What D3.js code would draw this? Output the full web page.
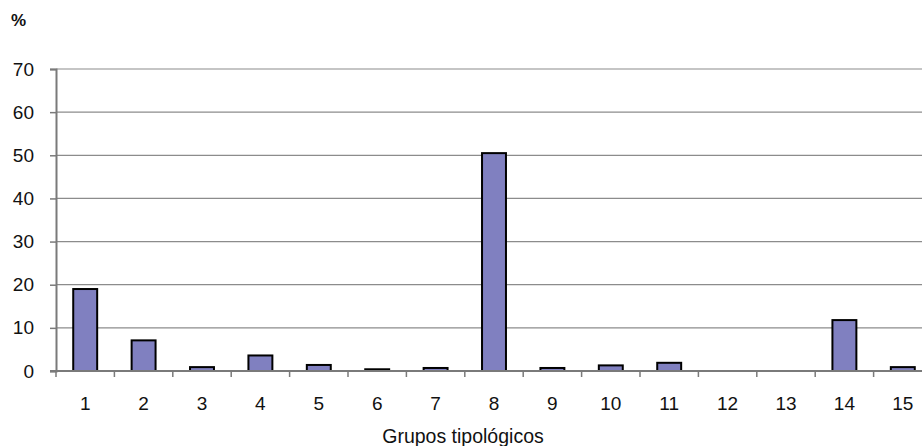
<!DOCTYPE html>
<html><head><meta charset="utf-8">
<script src="https://cdn.jsdelivr.net/npm/d3@7"></script>
<style>body{margin:0;background:#fff}svg{display:block;font-family:"Liberation Sans",Arial,sans-serif}</style>
</head><body>
<svg id="c" width="922" height="446"></svg>
<script>
const categories = ["1","2","3","4","5","6","7","8","9","10","11","12","13","14","15"];
const values = [19.0, 7.1, 0.9, 3.6, 1.4, 0.4, 0.7, 50.5, 0.7, 1.3, 1.9, 0, 0, 11.8, 0.9];
const yTicks = [0,10,20,30,40,50,60,70];
const yLabel = "%";
const xLabel = "Grupos tipológicos";

const svg = d3.select("#c");
const m = {left:56, top:69, bottom:371};
const bandW = 58.4;
const x = d3.scaleBand().domain(categories).range([m.left, m.left + bandW*categories.length]).paddingInner(0.59).paddingOuter(0.295);
const y = d3.scaleLinear().domain([0,70]).range([m.bottom, m.top]);
const xb = d3.scaleBand().domain(categories).range([m.left, m.left + bandW*categories.length]);

// gridlines
svg.append("g").selectAll("line").data(yTicks.filter(d=>d>0)).join("line")
  .attr("x1", m.left).attr("x2", 922).attr("y1", d=>y(d)).attr("y2", d=>y(d))
  .attr("stroke", "#8c8c8c").attr("stroke-width", 1.2);

// y axis
const ya = svg.append("g").attr("transform", `translate(${m.left},0)`)
  .call(d3.axisLeft(y).tickValues(yTicks).tickSize(6).tickPadding(16));
ya.select(".domain").attr("stroke", "#7a7a7a").attr("stroke-width", 2);
ya.selectAll(".tick line").attr("stroke", "#7a7a7a").attr("stroke-width", 1.5);
ya.selectAll(".tick text").attr("font-size", 19).attr("fill", "#111").attr("font-family", '"Liberation Sans",Arial,sans-serif');

// bars
svg.append("g").selectAll("rect").data(values).join("rect")
  .attr("x", (d,i)=>x(categories[i]))
  .attr("width", x.bandwidth())
  .attr("y", d=>y(d))
  .attr("height", d=>y(0)-y(d))
  .attr("fill", d=> d>0 ? "#8080c0" : "none")
  .attr("stroke", d=> d>0 ? "#000" : "none")
  .attr("stroke-width", 2);

// x axis
svg.append("line").attr("x1", m.left-6).attr("x2", 922).attr("y1", y(0)).attr("y2", y(0))
  .attr("stroke", "#7a7a7a").attr("stroke-width", 2);
const bounds = d3.range(0, categories.length+1).map(i => m.left + i*bandW);
svg.append("g").selectAll("line").data(bounds.filter(b=>b<922)).join("line")
  .attr("x1", d=>d).attr("x2", d=>d).attr("y1", y(0)).attr("y2", y(0)+6)
  .attr("stroke", "#7a7a7a").attr("stroke-width", 1.5);
svg.append("g").selectAll("text").data(categories).join("text")
  .attr("x", d=>xb(d)+xb.bandwidth()/2).attr("y", 410)
  .attr("text-anchor", "middle").attr("font-size", 19).attr("fill", "#111").text(d=>d);

svg.append("text").attr("x", 463).attr("y", 443).attr("text-anchor","middle")
  .attr("font-size", 19.5).attr("fill", "#111").text(xLabel);
svg.append("text").attr("x", 11).attr("y", 26).attr("font-size", 17).attr("font-weight","bold")
  .attr("fill", "#111").text(yLabel);
</script>
</body></html>
